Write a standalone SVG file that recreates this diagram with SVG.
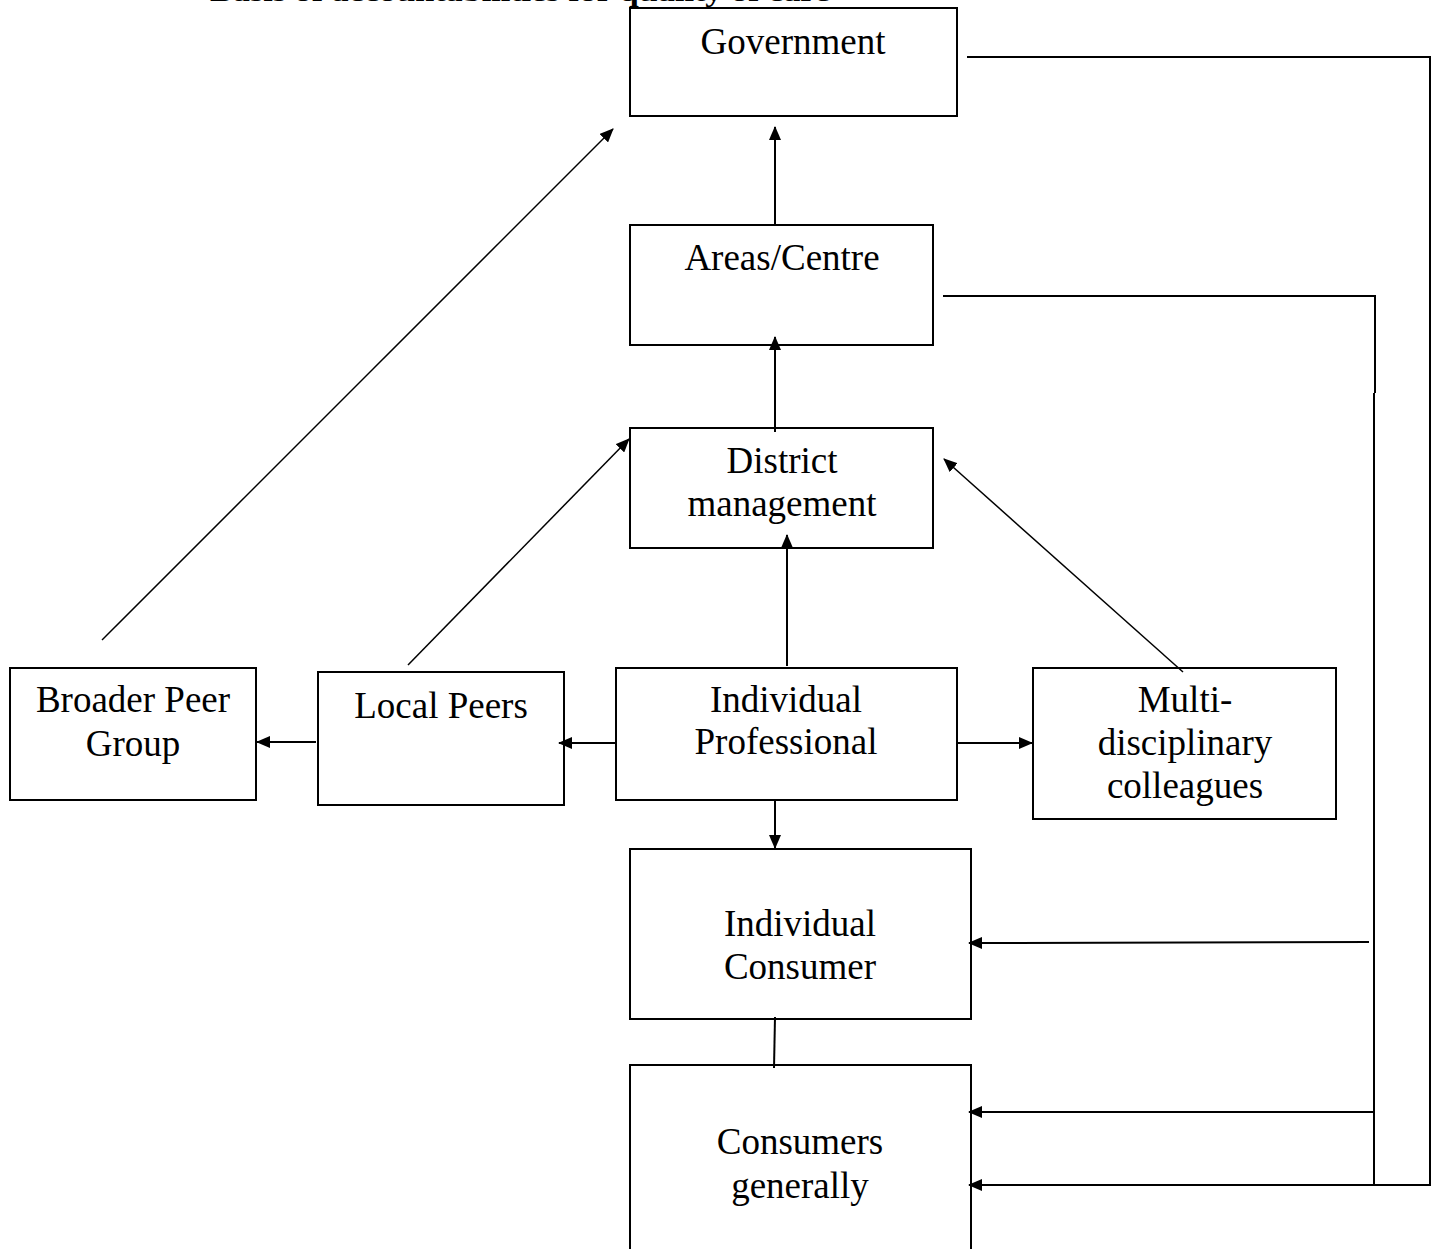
<svg xmlns="http://www.w3.org/2000/svg" width="1435" height="1249" viewBox="0 0 1435 1249">
<defs>
<style>
.box{fill:#fff;stroke:#000;stroke-width:2}
.t{font-family:"Liberation Serif","Times New Roman",serif;font-size:37px;fill:#000;text-anchor:middle}
.c{stroke:#000;stroke-width:2;fill:none}
.d{stroke:#000;stroke-width:1.5;fill:none}
.title{font-family:"Liberation Serif","Times New Roman",serif;font-size:28px;font-weight:bold;fill:#000}
</style>
<marker id="a" viewBox="0 0 14 12" refX="13" refY="6" markerWidth="14" markerHeight="12" markerUnits="userSpaceOnUse" orient="auto">
<path d="M0,0 L14,6 L0,12 Z" fill="#000"/>
</marker>
</defs>
<rect width="1435" height="1249" fill="#fff"/>
<text class="title" x="210" y="1" textLength="620" lengthAdjust="spacingAndGlyphs">Basis of accountabilities for quality of care</text>
<g id="government"><rect class="box" x="630" y="8" width="327" height="108"/><text class="t" x="793" y="54">Government</text></g>
<g id="areas"><rect class="box" x="630" y="225" width="303" height="120"/><text class="t" x="782" y="270">Areas/Centre</text></g>
<g id="district"><rect class="box" x="630" y="428" width="303" height="120"/><text class="t" x="782" y="473">District</text><text class="t" x="782" y="516">management</text></g>
<g id="broader"><rect class="box" x="10" y="668" width="246" height="132"/><text class="t" x="133" y="712">Broader Peer</text><text class="t" x="133" y="756">Group</text></g>
<g id="local"><rect class="box" x="318" y="672" width="246" height="133"/><text class="t" x="441" y="718">Local Peers</text></g>
<g id="professional"><rect class="box" x="616" y="668" width="341" height="132"/><text class="t" x="786" y="712">Individual</text><text class="t" x="786" y="754">Professional</text></g>
<g id="multi"><rect class="box" x="1033" y="668" width="303" height="151"/><text class="t" x="1185" y="712">Multi-</text><text class="t" x="1185" y="755">disciplinary</text><text class="t" x="1185" y="798">colleagues</text></g>
<g id="consumer"><rect class="box" x="630" y="849" width="341" height="170"/><text class="t" x="800" y="936">Individual</text><text class="t" x="800" y="979">Consumer</text></g>
<g id="generally"><rect class="box" x="630" y="1065" width="341" height="200"/><text class="t" x="800" y="1154">Consumers</text><text class="t" x="800" y="1198">generally</text></g>
<g id="connectors">
<line class="c" x1="775" y1="225" x2="775" y2="127" marker-end="url(#a)"/>
<line class="c" x1="775" y1="432" x2="775" y2="337" marker-end="url(#a)"/>
<line class="c" x1="787" y1="666" x2="787" y2="535" marker-end="url(#a)"/>
<line class="d" x1="102" y1="640" x2="613" y2="129" marker-end="url(#a)"/>
<line class="d" x1="408" y1="665" x2="629" y2="439" marker-end="url(#a)"/>
<line class="d" x1="1183" y1="672" x2="944" y2="459" marker-end="url(#a)"/>
<line class="c" x1="616" y1="743" x2="559" y2="743" marker-end="url(#a)"/>
<line class="c" x1="316" y1="742" x2="257" y2="742" marker-end="url(#a)"/>
<line class="c" x1="957" y1="743" x2="1032" y2="743" marker-end="url(#a)"/>
<line class="c" x1="775" y1="801" x2="775" y2="848" marker-end="url(#a)"/>
<line class="c" x1="775" y1="1017" x2="774" y2="1068"/>
<polyline class="c" points="967,57 1430,57 1430,1185 1374,1185"/>
<polyline class="c" points="943,296 1375,296 1375,393"/>
<line class="c" x1="1374" y1="393" x2="1374" y2="1185"/>
<line class="c" x1="1369" y1="942" x2="969" y2="943" marker-end="url(#a)"/>
<line class="c" x1="1374" y1="1112" x2="969" y2="1112" marker-end="url(#a)"/>
<line class="c" x1="1374" y1="1185" x2="969" y2="1185" marker-end="url(#a)"/>
</g>
</svg>
